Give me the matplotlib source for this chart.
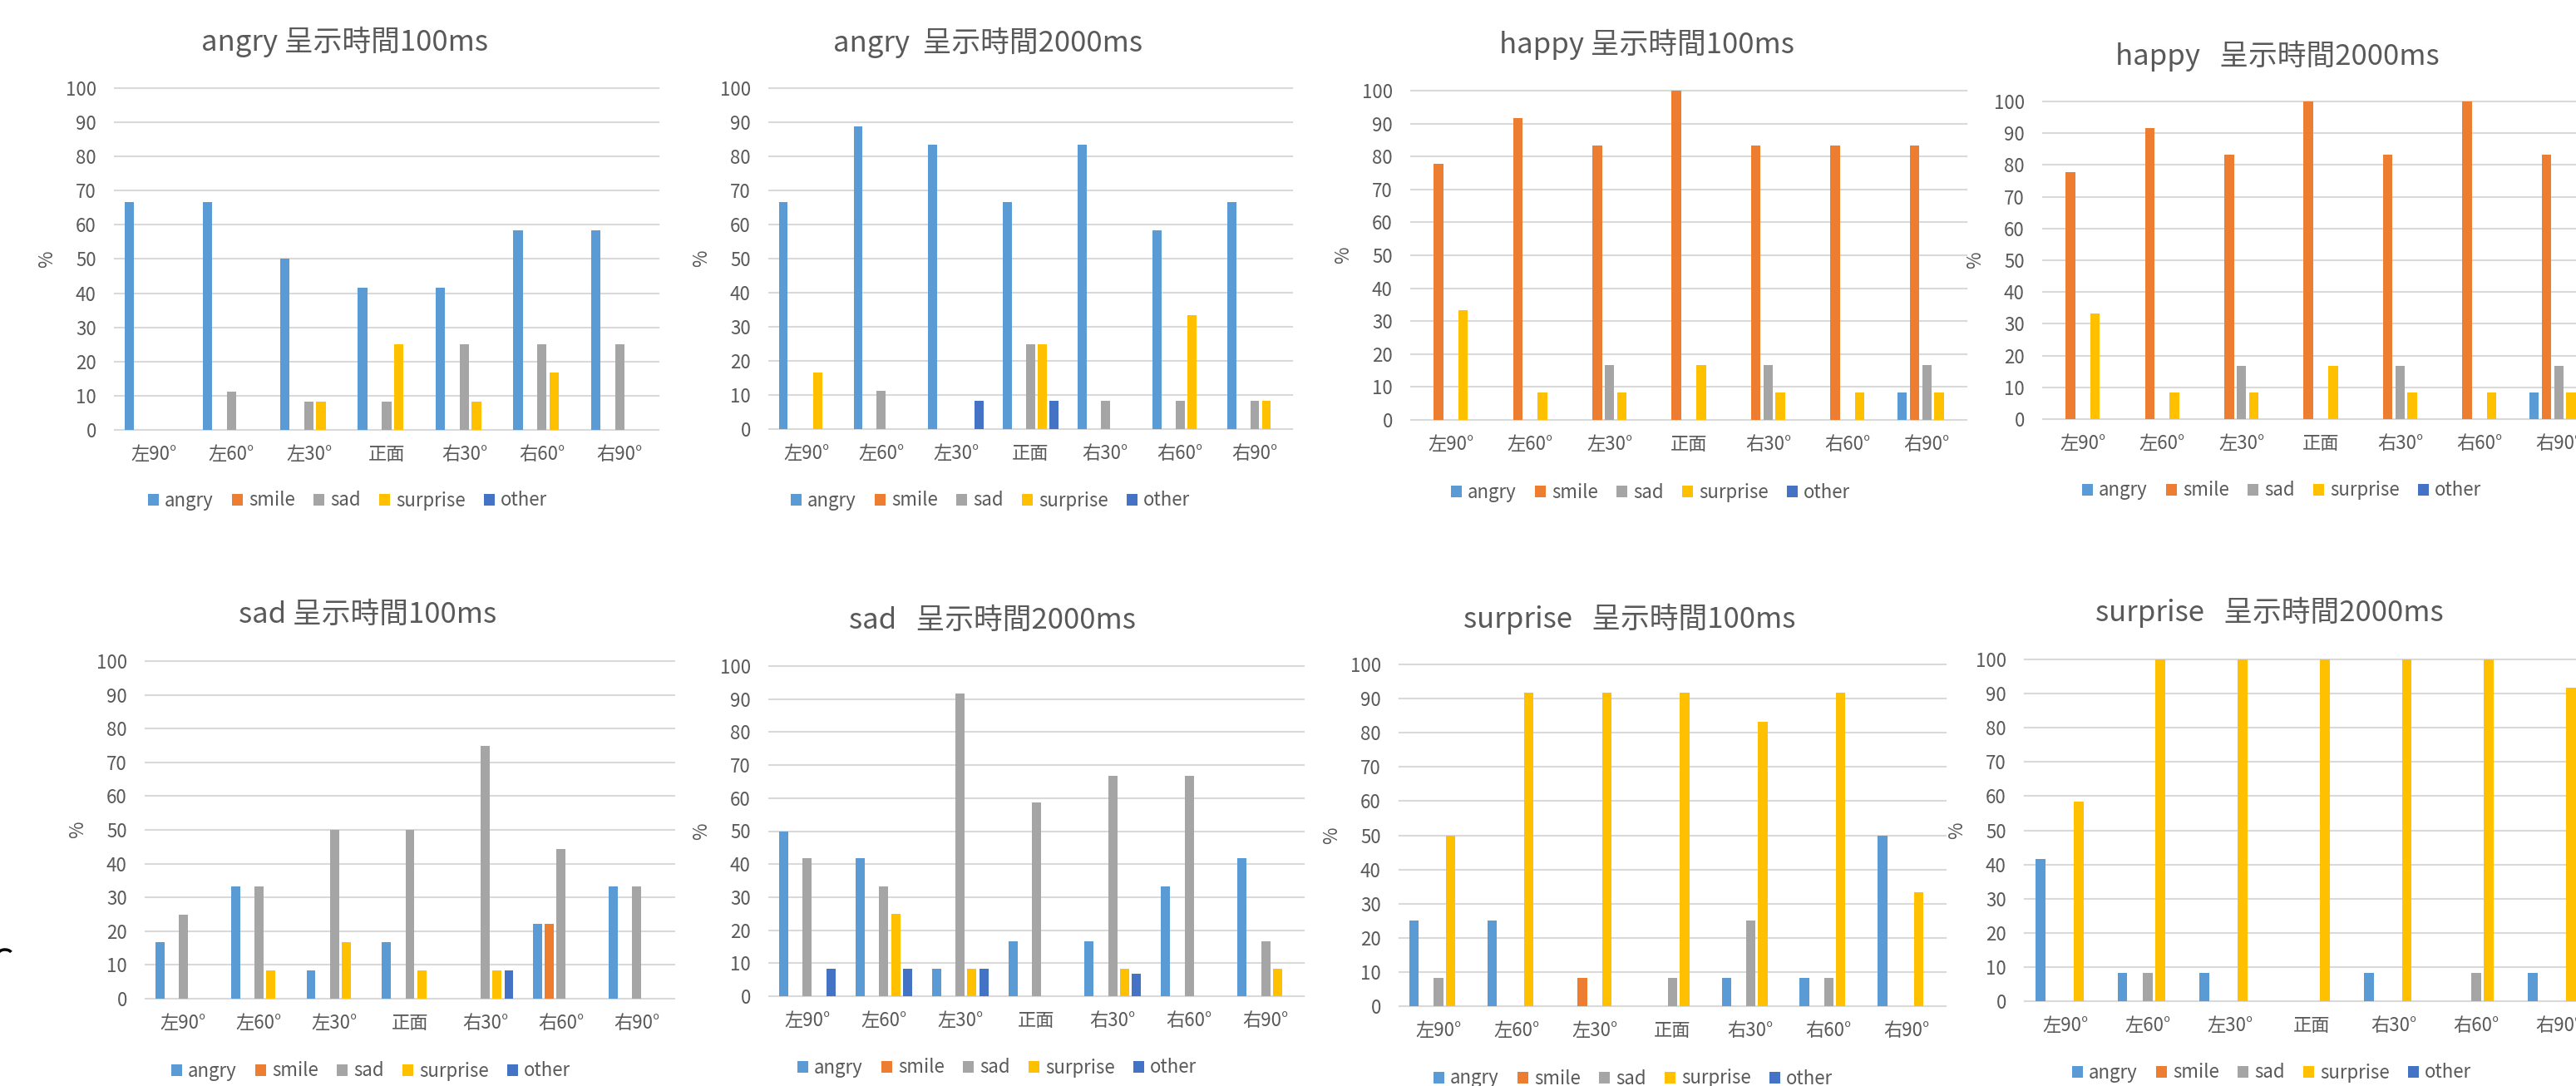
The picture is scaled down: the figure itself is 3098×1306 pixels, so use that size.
import numpy as np
import matplotlib.pyplot as plt
from matplotlib.patches import Arc
from matplotlib.transforms import IdentityTransform

plt.rcParams['font.family'] = ['Noto Sans CJK JP', 'DejaVu Sans']

angles = ['左90°', '左60°', '左30°', '正面', '右30°', '右60°', '右90°']
series = ['angry', 'smile', 'sad', 'surprise', 'other']
colors = ['#5B9BD5', '#ED7D31', '#A5A5A5', '#FFC000', '#4472C4']

# rows = angles, columns = angry, smile, sad, surprise, other (%)
angry_100 = [[66.7, 0, 0, 0, 0], [66.7, 0, 11.1, 0, 0], [50, 0, 8.3, 8.3, 0],
             [41.7, 0, 8.3, 25, 0], [41.7, 0, 25, 8.3, 0], [58.3, 0, 25, 16.7, 0],
             [58.3, 0, 25, 0, 0]]
angry_2000 = [[66.7, 0, 0, 16.7, 0], [88.9, 0, 11.1, 0, 0], [83.3, 0, 0, 0, 8.3],
              [66.7, 0, 25, 25, 8.3], [83.3, 0, 8.3, 0, 0], [58.3, 0, 8.3, 33.3, 0],
              [66.7, 0, 8.3, 8.3, 0]]
happy_100 = [[0, 77.8, 0, 33.3, 0], [0, 91.7, 0, 8.3, 0], [0, 83.3, 16.7, 8.3, 0],
             [0, 100, 0, 16.7, 0], [0, 83.3, 16.7, 8.3, 0], [0, 83.3, 0, 8.3, 0],
             [8.3, 83.3, 16.7, 8.3, 0]]
happy_2000 = [[0, 77.8, 0, 33.3, 0], [0, 91.7, 0, 8.3, 0], [0, 83.3, 16.7, 8.3, 0],
              [0, 100, 0, 16.7, 0], [0, 83.3, 16.7, 8.3, 0], [0, 100, 0, 8.3, 0],
              [8.3, 83.3, 16.7, 8.3, 0]]
sad_100 = [[16.7, 0, 25, 0, 0], [33.3, 0, 33.3, 8.3, 0], [8.3, 0, 50, 16.7, 0],
           [16.7, 0, 50, 8.3, 0], [0, 0, 75, 8.3, 8.3], [22.2, 22.2, 44.4, 0, 0],
           [33.3, 0, 33.3, 0, 0]]
sad_2000 = [[50, 0, 41.7, 0, 8.3], [41.7, 0, 33.3, 25, 8.3], [8.3, 0, 91.7, 8.3, 8.3],
            [16.7, 0, 58.8, 0, 0], [16.7, 0, 66.7, 8.3, 6.7], [33.3, 0, 66.7, 0, 0],
            [41.7, 0, 16.7, 8.3, 0]]
surprise_100 = [[25, 0, 8.3, 50, 0], [25, 0, 0, 91.7, 0], [0, 8.3, 0, 91.7, 0],
                [0, 0, 8.3, 91.7, 0], [8.3, 0, 25, 83.3, 0], [8.3, 0, 8.3, 91.7, 0],
                [50, 0, 0, 33.3, 0]]
surprise_2000 = [[41.7, 0, 0, 58.3, 0], [8.3, 0, 8.3, 100, 0], [8.3, 0, 0, 100, 0],
                 [0, 0, 0, 100, 0], [8.3, 0, 0, 100, 0], [0, 0, 8.3, 100, 0],
                 [8.3, 0, 0, 91.7, 0]]

titles = ['angry 呈示時間100ms', 'angry  呈示時間2000ms',
          'happy 呈示時間100ms', 'happy   呈示時間2000ms',
          'sad 呈示時間100ms', 'sad   呈示時間2000ms',
          'surprise   呈示時間100ms', 'surprise   呈示時間2000ms']
datasets = [angry_100, angry_2000, happy_100, happy_2000,
            sad_100, sad_2000, surprise_100, surprise_2000]

# layout in pixels: plot box (left, right, top, bottom), title centre, legend centre
W, H = 3098, 1306
boxes = [(138, 792, 106, 517), (925, 1554, 106, 516),
         (1697, 2365, 109, 505), (2457, 3125, 122, 504),
         (175, 811, 795, 1201), (925, 1568, 801, 1198),
         (1683, 2340, 799, 1210), (2435, 3126, 793, 1204)]
title_pos = [(415, 50), (1188, 51), (1980, 53), (2739, 67),
             (442, 739), (1193, 746), (1960, 744), (2729, 736)]
legend_pos = [(418, 602), (1191, 602), (1985, 592), (2744, 590),
              (446, 1288), (1199, 1284), (1964, 1297), (2732, 1290)]

txt = '#595959'
grid_c = '#D9D9D9'
pitch, bw = 0.155, 0.12

fig = plt.figure(figsize=(W / 100, H / 100), dpi=100)

for title, data, (l, r, t, b), (tx, ty), (lx, ly) in zip(titles, datasets, boxes, title_pos, legend_pos):
    ax = fig.add_axes([l / W, 1 - b / H, (r - l) / W, (b - t) / H])
    x = np.arange(len(angles))
    for j, s in enumerate(series):
        vals = [row[j] for row in data]
        ax.bar(x + (j - 2) * pitch, vals, width=bw, color=colors[j], label=s, zorder=3)
    for v in range(0, 101, 10):
        ax.axhline(v, color=grid_c, lw=1.5, zorder=1, clip_on=False)
    ax.set_xlim(-0.5, 6.5)
    ax.set_ylim(0, 100)
    ax.set_yticks(range(0, 101, 10))
    ax.set_xticks(x)
    ax.set_xticklabels(angles)
    for sp in ax.spines.values():
        sp.set_visible(False)
    ax.tick_params(axis='y', length=0, pad=16, labelsize=16, labelcolor=txt)
    ax.tick_params(axis='x', length=0, pad=13, labelsize=16, labelcolor=txt)
    ax.set_facecolor('none')

    fig.text(tx / W, 1 - ty / H, title, ha='center', va='center', fontsize=25, color=txt)
    fig.text((l - 81) / W, 1 - (t + b) / 2 / H, '%', rotation=90, ha='center', va='center',
             fontsize=16, color=txt)
    ax.legend(loc='center', bbox_to_anchor=(lx / W, 1 - ly / H), bbox_transform=fig.transFigure,
              ncol=5, frameon=False, fontsize=16, handlelength=0.6, handleheight=0.6,
              handletextpad=0.3, columnspacing=1.0, labelcolor=txt, borderpad=0)

# small leftover mark at the left edge of the collage
fig.patches.append(Arc((6, H - 1147), 16, 10, theta1=15, theta2=180, lw=2.5,
                       color='black', transform=IdentityTransform()))

fig.savefig('out.png', dpi=100, facecolor='white')
